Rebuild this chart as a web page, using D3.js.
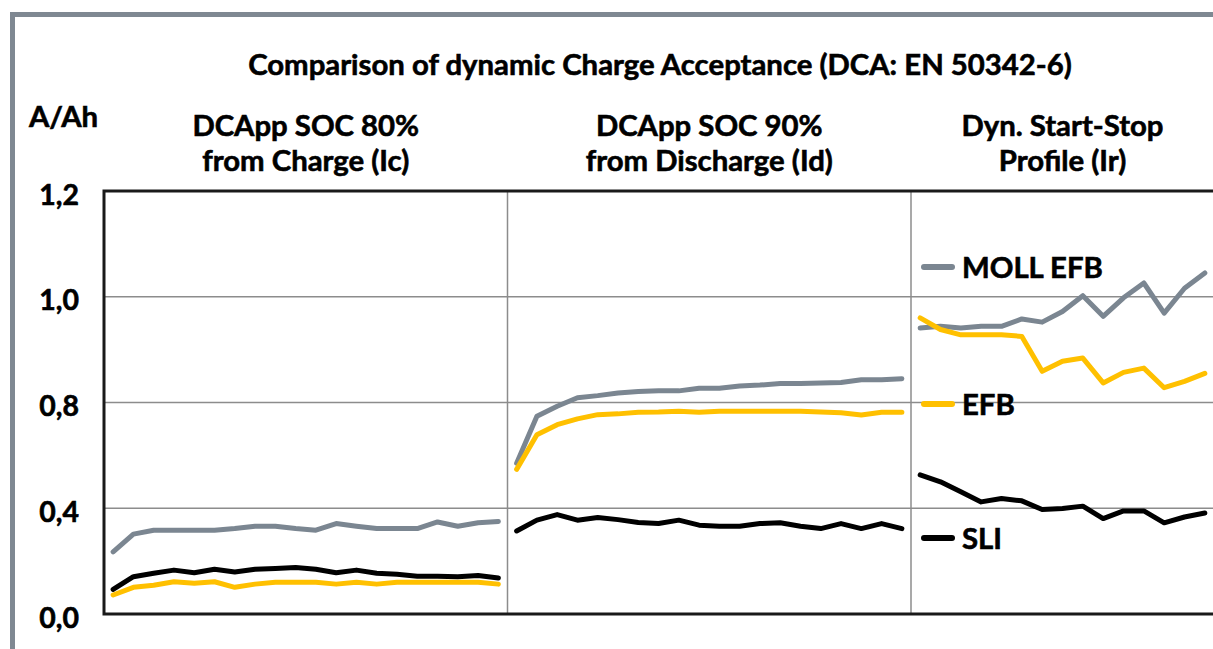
<!DOCTYPE html>
<html>
<head>
<meta charset="utf-8" />
<title>Dynamic Charge Acceptance</title>
<style>
body { margin: 0; background: #fff; }
svg { display: block; }
text { font-family: Lato, "Open Sans", sans-serif; font-weight: bold; fill: #000; stroke: #000; stroke-width: 0.6px; }
</style>
</head>
<body>
<div id="chart"></div>
<script src="https://d3js.org/d3.v7.min.js"></script>
<script>
// chart data
var title = 'Comparison of dynamic Charge Acceptance (DCA: EN 50342-6)';
var unitLabel = 'A/Ah';
var panelTitles = [
  ['DCApp SOC 80%', 'from Charge (Ic)'],
  ['DCApp SOC 90%', 'from Discharge (Id)'],
  ['Dyn. Start-Stop', 'Profile (Ir)']
];
var seriesNames = ['MOLL EFB', 'EFB', 'SLI'];
var yTicks = [0, 0.4, 0.8, 1.0, 1.2];
var tickLabels = ['0,0', '0,4', '0,8', '1,0', '1,2'];

var mollEfb = [
  [0.235, 0.302, 0.317, 0.317, 0.317, 0.317, 0.323, 0.332, 0.332, 0.323, 0.317, 0.342, 0.332, 0.323, 0.323, 0.323, 0.348, 0.332, 0.345, 0.350],
  [0.570, 0.748, 0.786, 0.809, 0.813, 0.818, 0.821, 0.822, 0.822, 0.827, 0.827, 0.831, 0.833, 0.836, 0.836, 0.837, 0.838, 0.843, 0.843, 0.845],
  [0.941, 0.944, 0.941, 0.944, 0.944, 0.958, 0.952, 0.972, 1.002, 0.963, 0.998, 1.026, 0.969, 1.016, 1.045]
];
var efb = [
  [0.072, 0.101, 0.109, 0.122, 0.116, 0.122, 0.101, 0.113, 0.120, 0.120, 0.120, 0.113, 0.120, 0.113, 0.120, 0.120, 0.120, 0.120, 0.120, 0.113],
  [0.547, 0.678, 0.716, 0.738, 0.754, 0.757, 0.763, 0.764, 0.767, 0.763, 0.767, 0.767, 0.767, 0.767, 0.767, 0.764, 0.761, 0.753, 0.763, 0.763],
  [0.960, 0.938, 0.928, 0.928, 0.928, 0.925, 0.859, 0.878, 0.884, 0.837, 0.857, 0.865, 0.828, 0.840, 0.855]
];
var sli = [
  [0.093, 0.141, 0.154, 0.166, 0.156, 0.169, 0.159, 0.169, 0.172, 0.176, 0.169, 0.156, 0.166, 0.154, 0.150, 0.143, 0.143, 0.141, 0.146, 0.136],
  [0.314, 0.355, 0.376, 0.355, 0.365, 0.357, 0.346, 0.342, 0.355, 0.336, 0.332, 0.332, 0.342, 0.345, 0.332, 0.323, 0.342, 0.323, 0.342, 0.323],
  [0.526, 0.500, 0.462, 0.424, 0.437, 0.428, 0.395, 0.399, 0.408, 0.361, 0.390, 0.390, 0.345, 0.367, 0.382]
];

(function(d3) {
  'use strict';

  var width = 1213;
  var height = 649;
  var top = 191, bottom = 614, left = 104, right = 1214;
  var panelEdges = [left, 507.5, 911, right];
  var colors = ['#7b8691', '#ffc000', '#000000'];
  var series = [mollEfb, efb, sli];

  var svg = d3.select('#chart').append('svg')
    .attr('width', width).attr('height', height);

  // outer frame
  svg.append('rect')
    .attr('x', 12.5).attr('y', 14.5)
    .attr('width', width + 20).attr('height', height + 20)
    .attr('fill', 'none').attr('stroke', '#7f8892').attr('stroke-width', 5);

  // the value axis is broken: equal spacing for 0 / 0.4 / 0.8 / 1.0 / 1.2
  var y = d3.scaleLinear()
    .domain(yTicks)
    .range(d3.range(yTicks.length).map(function(i) {
      return bottom - i * (bottom - top) / (yTicks.length - 1);
    }));

  // title, sized from its measured width
  var titleText = svg.append('text')
    .attr('x', 660).attr('y', 75)
    .attr('text-anchor', 'middle')
    .style('font-size', '30px')
    .text(title);
  var fs = 30 * 824 / titleText.node().getComputedTextLength();
  titleText.style('font-size', fs + 'px');

  svg.append('text')
    .attr('x', 29).attr('y', 127)
    .style('font-size', fs + 'px')
    .text(unitLabel);

  // gridlines
  svg.append('g').selectAll('line')
    .data(yTicks.filter(function(d) { return d > 0 && d < 1.2; }))
    .enter().append('line')
    .attr('x1', left).attr('x2', right)
    .attr('y1', function(d) { return y(d); })
    .attr('y2', function(d) { return y(d); })
    .attr('stroke', '#8c8c8c').attr('stroke-width', 1.5);

  // panel dividers
  svg.append('g').selectAll('line')
    .data(panelEdges.slice(1, 3))
    .enter().append('line')
    .attr('x1', function(d) { return d; }).attr('x2', function(d) { return d; })
    .attr('y1', top).attr('y2', bottom)
    .attr('stroke', '#8c8c8c').attr('stroke-width', 1.5);

  // plot border: top, left, bottom
  svg.append('path')
    .attr('d', 'M' + right + ',' + y(1.2) + 'H' + left + 'V' + y(0) + 'H' + right)
    .attr('fill', 'none').attr('stroke', '#1a1a1a').attr('stroke-width', 3);

  // value axis labels
  var yAxis = d3.axisLeft(y)
    .tickValues(yTicks)
    .tickSize(0)
    .tickPadding(25)
    .tickFormat(function(d, i) { return tickLabels[i]; });
  var axisG = svg.append('g')
    .attr('transform', 'translate(' + left + ',0)')
    .call(yAxis);
  axisG.select('.domain').remove();
  axisG.selectAll('text')
    .attr('dy', '13px')
    .attr('font-family', null)
    .style('font-size', (fs * 0.97) + 'px')
    .attr('fill', '#000');

  // panels
  panelTitles.forEach(function(lines, p) {
    var x0 = panelEdges[p], x1 = panelEdges[p + 1];
    var n = series[0][p].length;
    var x = d3.scalePoint()
      .domain(d3.range(n))
      .range([x0, x1])
      .padding(0.45);

    svg.append('text')
      .attr('text-anchor', 'middle')
      .attr('x', (x0 + x1) / 2)
      .style('font-size', fs + 'px')
      .selectAll('tspan')
      .data(lines)
      .enter().append('tspan')
      .attr('x', (x0 + x1) / 2)
      .attr('y', function(d, i) { return 136 + i * 35; })
      .text(function(d) { return d; });

    var line = d3.line()
      .x(function(d, i) { return x(i); })
      .y(function(d) { return y(d); });

    series.forEach(function(s, k) {
      svg.append('path')
        .datum(s[p])
        .attr('d', line)
        .attr('fill', 'none')
        .attr('stroke', colors[k])
        .attr('stroke-width', 5)
        .attr('stroke-linejoin', 'round')
        .attr('stroke-linecap', 'round');
    });
  });

  // legend inside the third panel
  var legendY = [267, 404, 538];
  var legend = svg.selectAll('.legend')
    .data(seriesNames)
    .enter().append('g')
    .attr('class', 'legend')
    .attr('transform', function(d, i) {
      return 'translate(924,' + legendY[i] + ')';
    });
  legend.append('line')
    .attr('x1', 0).attr('x2', 28)
    .attr('stroke', function(d, i) { return colors[i]; })
    .attr('stroke-width', 6)
    .attr('stroke-linecap', 'round');
  legend.append('text')
    .attr('x', 38).attr('y', 10.5)
    .style('font-size', fs + 'px')
    .text(function(d) { return d; });

})(window.d3);
</script>
</body>
</html>
